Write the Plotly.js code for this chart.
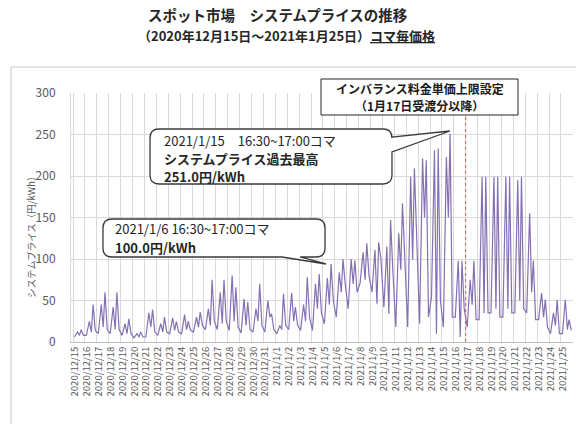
<!DOCTYPE html>
<html><head><meta charset="utf-8">
<script src="https://cdn.plot.ly/plotly-3.0.1.min.js"></script>
<style>html,body{margin:0;padding:0;background:#fff}#chart{width:576px;height:424px}</style>
</head><body><div id="chart"></div>
<script>
// ---- data ----
const dates = ['2020-12-15','2020-12-16','2020-12-17','2020-12-18','2020-12-19','2020-12-20','2020-12-21','2020-12-22','2020-12-23','2020-12-24','2020-12-25','2020-12-26','2020-12-27','2020-12-28','2020-12-29','2020-12-30','2020-12-31','2021-01-01','2021-01-02','2021-01-03','2021-01-04','2021-01-05','2021-01-06','2021-01-07','2021-01-08','2021-01-09','2021-01-10','2021-01-11','2021-01-12','2021-01-13','2021-01-14','2021-01-15','2021-01-16','2021-01-17','2021-01-18','2021-01-19','2021-01-20','2021-01-21','2021-01-22','2021-01-23','2021-01-24','2021-01-25'];
const dateLabels = ['2020/12/15','2020/12/16','2020/12/17','2020/12/18','2020/12/19','2020/12/20','2020/12/21','2020/12/22','2020/12/23','2020/12/24','2020/12/25','2020/12/26','2020/12/27','2020/12/28','2020/12/29','2020/12/30','2020/12/31','2021/1/1','2021/1/2','2021/1/3','2021/1/4','2021/1/5','2021/1/6','2021/1/7','2021/1/8','2021/1/9','2021/1/10','2021/1/11','2021/1/12','2021/1/13','2021/1/14','2021/1/15','2021/1/16','2021/1/17','2021/1/18','2021/1/19','2021/1/20','2021/1/21','2021/1/22','2021/1/23','2021/1/24','2021/1/25'];
// time of day of each reading slot
const slotTimes = ['03:00','09:00','13:00','16:30','21:00'];
// price (円/kWh) per day for each slot
const nightLow    = [6,8,10,10,8,5,6,8,10,10,12,15,15,14,11,12,12,10,15,14,14,22,30,40,71,60,42,18,18,22,54,18,30,18,27,35,30,35,35,27,10,10];
const morningPeak = [12,25,45,42,22,10,35,22,29,33,30,40,60,80,52,40,50,20,59,45,70,77,84,100,108,111,115,131,199,221,231,223,98,75,199,199,199,195,155,59,35,51];
const middayDip   = [8,12,18,15,10,6,18,12,14,15,18,20,22,25,20,25,30,15,25,25,40,45,60,70,75,46,34,87,99,150,10,150,6,45,35,40,40,50,60,30,20,15];
const eveningPeak = [15,45,60,60,28,12,39,30,25,25,36,75,75,66,48,70,34,58,42,78,82,94,100,98,119,120,147,167,209,219,233,251,98,98,199,199,199,199,98,51,51,27];
const lateEvening = [8,14,15,15,10,6,12,12,12,14,20,25,25,18,15,20,15,20,20,30,35,50,70,60,80,100,87,100,120,30,50,30,40,27,35,30,35,40,27,18,10,14];
const yTicks = [0,50,100,150,200,250,300];

const series = [nightLow, morningPeak, middayDip, eveningPeak, lateEvening];
const xs = [], ys = [];
dates.forEach((d,i)=>{ slotTimes.forEach((t,s)=>{ xs.push(d+' '+t); ys.push(series[s][i]); }); });

// ---- layout helpers (pixel -> paper) ----
const W=576,H=424, L=71, R=3, T=93, B=82;
const pw=W-L-R, ph=H-T-B;
const px=x=>(x-L)/pw, py=y=>(H-B-y)/ph;
const P=(x,y)=>px(x).toFixed(4)+','+py(y).toFixed(4);

const dayPx=11.9;
const t0=Date.parse('2020-12-15T00:00:00Z');
const dayMs=86400000;
const fmt=ms=>new Date(ms).toISOString().replace('T',' ').slice(0,19);
const rangeStart=t0-(73-L)/dayPx*dayMs;
const rangeEnd=rangeStart+pw/dayPx*dayMs;

function calloutRight(x0,y0,x1,y1,r,ta,tb,tip){
  return 'M'+P(x0+r,y0)+' L'+P(x1-r,y0)+' Q'+P(x1,y0)+' '+P(x1,y0+r)+
    ' L'+P(x1,ta)+' L'+P(tip[0],tip[1])+' L'+P(x1,tb)+
    ' L'+P(x1,y1-r)+' Q'+P(x1,y1)+' '+P(x1-r,y1)+' L'+P(x0+r,y1)+' Q'+P(x0,y1)+' '+P(x0,y1-r)+
    ' L'+P(x0,y0+r)+' Q'+P(x0,y0)+' '+P(x0+r,y0)+' Z';
}
function calloutBottom(x0,y0,x1,y1,r,ta,tb,tip){
  return 'M'+P(x0+r,y0)+' L'+P(x1-r,y0)+' Q'+P(x1,y0)+' '+P(x1,y0+r)+
    ' L'+P(x1,y1-r)+' Q'+P(x1,y1)+' '+P(x1-r,y1)+
    ' L'+P(tb,y1)+' L'+P(tip[0],tip[1])+' L'+P(ta,y1)+
    ' L'+P(x0+r,y1)+' Q'+P(x0,y1)+' '+P(x0,y1-r)+
    ' L'+P(x0,y0+r)+' Q'+P(x0,y0)+' '+P(x0+r,y0)+' Z';
}

const JP='"Noto Sans CJK JP", "Noto Sans", sans-serif';
const gridC='#d9d9d9';

const trace={x:xs,y:ys,type:'scatter',mode:'lines',line:{color:'#8471b4',width:1.2},hoverinfo:'skip'};

function txt(x,y,text,size,color,anchor){
  return {xref:'paper',yref:'paper',x:px(x),y:py(y),text:text,showarrow:false,borderpad:0,
    font:{size:size,color:color,family:JP},xanchor:anchor||'left',yanchor:'middle'};
}

const layout={
  width:W,height:H,margin:{l:L,r:R,t:T,b:B},
  paper_bgcolor:'#fff',plot_bgcolor:'#fff',showlegend:false,
  font:{family:JP,color:'#595959'},
  xaxis:{type:'date',range:[fmt(rangeStart),fmt(rangeEnd)],
    tickmode:'array',tickvals:dates,ticktext:dateLabels,tickangle:-90,
    tickfont:{size:9.5,color:'#595959',family:JP},ticklabelshift:2,
    showgrid:true,gridcolor:gridC,gridwidth:1,showline:true,linecolor:'#bfbfbf',linewidth:1,
    ticks:'',zeroline:false,fixedrange:true},
  yaxis:{range:[0,300],tickmode:'array',tickvals:yTicks,
    tickfont:{size:12,color:'#595959',family:JP},ticklabelstandoff:12,
    showgrid:true,gridcolor:gridC,gridwidth:1,showline:true,linecolor:gridC,linewidth:1,
    ticks:'',zeroline:false,fixedrange:true},
  shapes:[
    {type:'rect',xref:'paper',yref:'paper',x0:px(11),x1:px(590),y0:py(440),y1:py(67),line:{color:'#c8c8c8',width:1},fillcolor:'rgba(0,0,0,0)',layer:'below'},
    {type:'line',xref:'x',yref:'paper',x0:'2021-01-17',x1:'2021-01-17',y0:0,y1:py(116),line:{color:'#e8534f',width:1,dash:'3px,3px'}},
    {type:'rect',xref:'paper',yref:'paper',x0:px(321),x1:px(518),y0:py(115),y1:py(79),line:{color:'#262626',width:1},fillcolor:'#ffffff'},
    {type:'path',xref:'paper',yref:'paper',path:calloutRight(150,129,392,184,9,137,152,[450,131]),line:{color:'#3a3a3a',width:1.3},fillcolor:'#ffffff'},
    {type:'path',xref:'paper',yref:'paper',path:calloutBottom(103,219,325,257,9,282,300,[326,264]),line:{color:'#3a3a3a',width:1.3},fillcolor:'#ffffff'}
  ],
  annotations:[
    txt(278,14,'<b>スポット市場　システムプライスの推移</b>',14.5,'#262626','center'),
    txt(286,35,'<b>（2020年12月15日～2021年1月25日）<span style="text-decoration:underline">コマ毎価格</span></b>',13,'#262626','center'),
    Object.assign(txt(31,235,'システムプライス（円/kWh）',9.5,'#595959','center'),{textangle:-90}),
    txt(419.5,88,'<b>インバランス料金単価上限設定</b>',12,'#1a1a1a','center'),
    txt(419.5,105,'<b>（1月17日受渡分以降）</b>',12,'#1a1a1a','center'),
    txt(163,140,'2021/1/15　16:30~17:00コマ',13,'#262626'),
    txt(163,158,'<b>システムプライス過去最高</b>',13,'#262626'),
    txt(163,176,'<b>251.0円/kWh</b>',13,'#262626'),
    txt(114,228.5,'2021/1/6 16:30~17:00コマ',13,'#262626'),
    txt(114,247.5,'<b>100.0円/kWh</b>',13,'#262626')
  ]
};
Plotly.newPlot('chart',[trace],layout,{staticPlot:true,displayModeBar:false});
</script></body></html>
